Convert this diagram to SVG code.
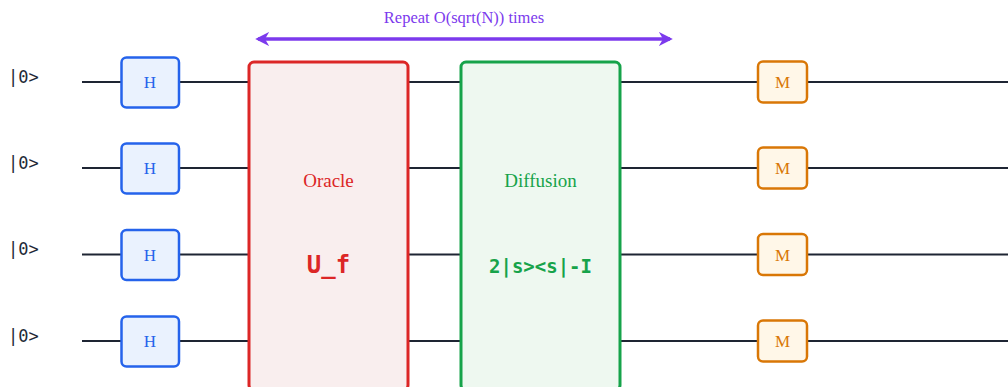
<svg xmlns="http://www.w3.org/2000/svg" width="1008" height="387" viewBox="0 0 1008 387">
  <style>
    .wire { stroke: #1e2533; stroke-width: 2; fill: none; }
    .ket { font-family: "DejaVu Sans Mono", "Liberation Mono", monospace; font-size: 17px; fill: #1f2937; }
    .h rect { fill: #eaf2fe; stroke: #2563eb; stroke-width: 2.5; }
    .h text { font-family: "Liberation Serif", serif; font-size: 17px; fill: #2563eb; text-anchor: middle; }
    .m rect { fill: #fff7e8; stroke: #d97706; stroke-width: 2.5; }
    .m text { font-family: "Liberation Serif", serif; font-size: 17px; fill: #d97706; text-anchor: middle; }
    .label { font-family: "Liberation Serif", serif; font-size: 19px; text-anchor: middle; }
    .code { font-family: "DejaVu Sans Mono", "Liberation Mono", monospace; font-weight: bold; text-anchor: middle; }
  </style>
  <defs>
    <marker id="arrow" viewBox="0 0 10 10" refX="8" refY="5" markerWidth="4" markerHeight="4" orient="auto-start-reverse">
      <path d="M0,0 L10,5 L0,10 L3,5 Z" fill="#7c3aed"/>
    </marker>
  </defs>
  <rect width="1008" height="387" fill="#ffffff"/>

  <!-- qubit wires and the repeat span arrow -->
  <g id="connectors">
    <line class="wire" x1="82" y1="82" x2="1008" y2="82"/>
    <line class="wire" x1="82" y1="168" x2="1008" y2="168"/>
    <line class="wire" x1="82" y1="254.5" x2="1008" y2="254.5"/>
    <line class="wire" x1="82" y1="341" x2="1008" y2="341"/>
    <line x1="258" y1="39" x2="670" y2="39" stroke="#7c3aed" stroke-width="3.5" marker-start="url(#arrow)" marker-end="url(#arrow)"/>
  </g>

  <g id="repeat-label">
    <text class="label" x="464" y="23" fill="#7c3aed" style="font-size:16.5px">Repeat O(sqrt(N)) times</text>
  </g>

  <!-- input states -->
  <g id="inputs">
    <text class="ket" x="8" y="83">|0&gt;</text>
    <text class="ket" x="8" y="169">|0&gt;</text>
    <text class="ket" x="8" y="255">|0&gt;</text>
    <text class="ket" x="8" y="342">|0&gt;</text>
  </g>

  <!-- Hadamard gates -->
  <g id="h1" class="h"><rect x="121.5" y="57.5" width="57.5" height="50" rx="5"/><text x="150" y="88">H</text></g>
  <g id="h2" class="h"><rect x="121.5" y="143.5" width="57.5" height="50" rx="5"/><text x="150" y="174">H</text></g>
  <g id="h3" class="h"><rect x="121.5" y="230" width="57.5" height="50" rx="5"/><text x="150" y="260.5">H</text></g>
  <g id="h4" class="h"><rect x="121.5" y="316.5" width="57.5" height="50" rx="5"/><text x="150" y="347">H</text></g>

  <!-- Oracle -->
  <g id="oracle">
    <rect x="249" y="62" width="159" height="328" rx="5" fill="#f9eeee" stroke="#dc2626" stroke-width="3"/>
    <text class="label" x="328.5" y="187" fill="#dc2626">Oracle</text>
    <text class="code" x="328.5" y="273" font-size="24" fill="#dc2626">U_f</text>
  </g>

  <!-- Diffusion -->
  <g id="diffusion">
    <rect x="461" y="62" width="159" height="328" rx="5" fill="#eef8f0" stroke="#16a34a" stroke-width="3"/>
    <text class="label" x="540.5" y="187" fill="#16a34a">Diffusion</text>
    <text class="code" x="540.5" y="273" font-size="19" fill="#16a34a">2|s&gt;&lt;s|-I</text>
  </g>

  <!-- Measurements -->
  <g id="m1" class="m"><rect x="758" y="61.5" width="49" height="41" rx="5"/><text x="782.5" y="88">M</text></g>
  <g id="m2" class="m"><rect x="758" y="147.5" width="49" height="41" rx="5"/><text x="782.5" y="174">M</text></g>
  <g id="m3" class="m"><rect x="758" y="234" width="49" height="41" rx="5"/><text x="782.5" y="260.5">M</text></g>
  <g id="m4" class="m"><rect x="758" y="320.5" width="49" height="41" rx="5"/><text x="782.5" y="347">M</text></g>
</svg>
